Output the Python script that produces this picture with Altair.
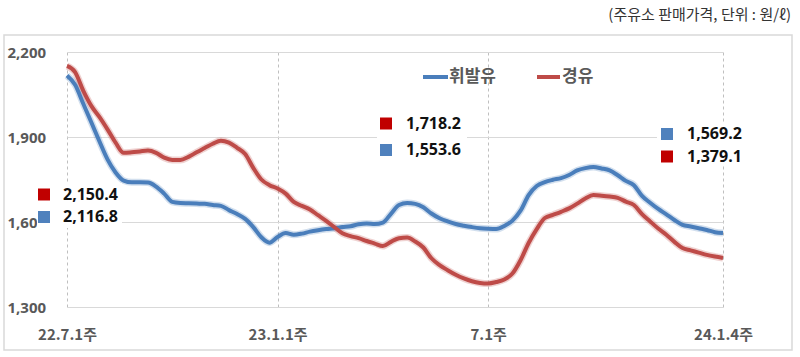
import altair as alt
import pandas as pd

# ---- data ----
weeks = list(range(82))  # 22.7.1주 .. 24.1.4주, weekly
gasoline = [2117, 2084, 2018, 1952, 1885, 1821, 1775, 1746, 1740, 1740,
            1739, 1725, 1700, 1671, 1667, 1666, 1665, 1664, 1660, 1657,
            1642, 1628, 1611, 1582, 1546, 1527, 1547, 1561, 1555, 1559,
            1566, 1571, 1575, 1578, 1582, 1585, 1592, 1595, 1593, 1598,
            1629, 1660, 1667, 1664, 1652, 1630, 1613, 1602, 1593, 1587,
            1582, 1578, 1576, 1575, 1586, 1605, 1640, 1695, 1727, 1741,
            1749, 1755, 1766, 1782, 1790, 1794, 1789, 1782, 1765, 1745,
            1730, 1692, 1668, 1646, 1627, 1607, 1590, 1584, 1578, 1572,
            1564, 1561]
diesel = [2151, 2129, 2064, 2010, 1971, 1927, 1880, 1844, 1846, 1849,
          1852, 1844, 1827, 1819, 1819, 1830, 1846, 1861, 1876, 1887,
          1880, 1862, 1840, 1791, 1750, 1730, 1718, 1700, 1671, 1657,
          1644, 1624, 1604, 1582, 1560, 1550, 1543, 1533, 1524, 1515,
          1530, 1543, 1545, 1531, 1510, 1472, 1448, 1430, 1414, 1401,
          1391, 1385, 1383, 1388, 1397, 1418, 1465, 1526, 1575, 1614,
          1625, 1636, 1648, 1665, 1683, 1695, 1693, 1690, 1685, 1672,
          1660, 1628, 1602, 1577, 1555, 1530, 1508, 1500, 1492, 1484,
          1478, 1473]
series_names = ["휘발유", "경유"]
tick_weeks = [0, 26, 52, 81]
tick_labels = ["22.7.1주", "23.1.1주", "7.1주", "24.1.4주"]
y_ticks = [1300, 1600, 1900, 2200]
callout_texts = ["2,150.4", "2,116.8", "1,718.2", "1,553.6", "1,569.2", "1,379.1"]
callout_series = ["경유", "휘발유", "경유", "휘발유", "휘발유", "경유"]
unit_note = "(주유소 판매가격, 단위 : 원/ℓ)"

LINE_COL = {"휘발유": "#4a7ebb", "경유": "#be4b48"}
SQ_COL = {"휘발유": "#4f81bd", "경유": "#c00000"}

df = pd.DataFrame({
    "week": weeks * 2,
    "price": gasoline + diesel,
    "series": [series_names[0]] * len(weeks) + [series_names[1]] * len(weeks),
})

OX, OY = 67, 52  # plot origin in page pixels
def px(x):
    return x - OX
def py(y):
    return y - OY

label_expr = " : ".join(
    f"datum.value == {w} ? '{t}'" for w, t in zip(tick_weeks, tick_labels)
) + " : ''"

x_enc = alt.X("week:Q", scale=alt.Scale(domain=[0, 81], nice=False, zero=False),
              axis=alt.Axis(values=tick_weeks, labelExpr=label_expr, grid=True,
                            gridDash=[3, 3], gridColor="#bfbfbf", domain=False,
                            ticks=False, tickSize=0, labelPadding=20, labelFlush=False,
                            labelOverlap=False,
                            labelFont="Noto Sans CJK KR", labelFontSize=15,
                            labelFontWeight="bold", labelColor="#595959",
                            title=None))
y_enc = alt.Y("price:Q", scale=alt.Scale(domain=[1300, 2200], nice=False, zero=False),
              axis=alt.Axis(values=y_ticks, labelExpr="format(datum.value, ',')",
                            grid=True, gridColor="#d9d9d9", labelFlush=False,
                            domain=False, ticks=False, tickSize=0, labelAlign="left",
                            labelPadding=60, labelFont="Noto Sans", labelFontSize=15,
                            labelFontWeight="bold", labelColor="#595959", title=None))

color_enc = alt.Color("series:N",
                      scale=alt.Scale(domain=series_names,
                                      range=[LINE_COL[s] for s in series_names]),
                      legend=None)

layers = []

# outer frame
frame_df = pd.DataFrame({"a": [0]})
layers.append(alt.Chart(frame_df).mark_rect(fill="white", stroke="#d9d9d9", strokeWidth=1.5,
                                            fillOpacity=0).encode(
    x=alt.value(px(4)), x2=alt.value(px(792)), y=alt.value(py(35)), y2=alt.value(py(350))))

# glow + lines
layers.append(alt.Chart(df).mark_line(strokeWidth=7, opacity=0.25, interpolate="monotone").encode(
    x=x_enc, y=y_enc, color=color_enc, detail="series:N"))
layers.append(alt.Chart(df).mark_line(strokeWidth=4, interpolate="monotone").encode(
    x=x_enc, y=y_enc, color=color_enc, detail="series:N"))

# white boxes behind callouts
boxes = [(37, 183, 122, 228), (377, 114, 467, 161), (657, 123, 745, 166)]
for (x1, y1, x2, y2) in boxes:
    layers.append(alt.Chart(frame_df).mark_rect(fill="white").encode(
        x=alt.value(px(x1)), x2=alt.value(px(x2)), y=alt.value(py(y1)), y2=alt.value(py(y2))))

# callouts: squares + text
sq_pos = [(44, 194.5), (44, 217), (386, 123.5), (386, 150), (667, 134), (667, 156.5)]
text_x = [63, 63, 406, 406, 687, 687]
for t, s, (sx, sy), tx in zip(callout_texts, callout_series, sq_pos, text_x):
    d = pd.DataFrame({"t": [t]})
    layers.append(alt.Chart(d).mark_square(size=144, color=SQ_COL[s], opacity=1).encode(
        x=alt.value(px(sx)), y=alt.value(py(sy))))
    layers.append(alt.Chart(d).mark_text(align="left", baseline="middle", font="Noto Sans",
                                         fontSize=16, fontWeight="bold", color="#111111").encode(
        x=alt.value(px(tx)), y=alt.value(py(sy)), text="t:N"))

# legend
leg = [(423, 448, 449, series_names[0]), (537, 560, 562, series_names[1])]
for (lx1, lx2, tx, name) in leg:
    d = pd.DataFrame({"t": [name]})
    layers.append(alt.Chart(d).mark_rule(strokeWidth=4, color=LINE_COL[name]).encode(
        x=alt.value(px(lx1)), x2=alt.value(px(lx2)), y=alt.value(py(77))))
    layers.append(alt.Chart(d).mark_text(align="left", baseline="middle",
                                         font="Noto Sans CJK KR", fontSize=17,
                                         fontWeight="bold", color="#595959").encode(
        x=alt.value(px(tx)), y=alt.value(py(77)), text="t:N"))

# unit note
d = pd.DataFrame({"t": [unit_note]})
layers.append(alt.Chart(d).mark_text(align="right", baseline="middle",
                                     font="Noto Sans CJK KR", fontSize=15,
                                     color="#333333").encode(
    x=alt.value(px(791)), y=alt.value(py(15)), text="t:N"))

chart = alt.layer(*layers).properties(
    width=656, height=255,
    padding={"left": 67, "top": 52, "right": 77, "bottom": 50},
    autosize="none",
    background="white",
).configure_view(strokeWidth=0)

chart.save("out.html", embed_options={"renderer": "svg", "actions": False})
